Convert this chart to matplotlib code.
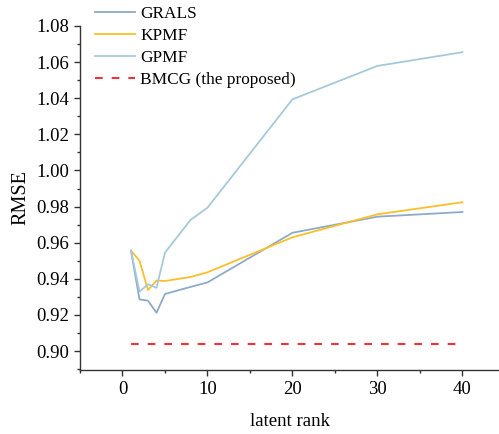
import matplotlib
matplotlib.use("Agg")
import matplotlib.pyplot as plt
from matplotlib.ticker import MultipleLocator

plt.rcParams["font.family"] = ["Liberation Serif", "DejaVu Serif"]

ranks = [1, 2, 3, 4, 5, 8, 10, 20, 30, 40]
grals = [0.9556, 0.9286, 0.9279, 0.9212, 0.9316, 0.9355, 0.9380, 0.9655, 0.9744, 0.9770]
kpmf = [0.9556, 0.9500, 0.9338, 0.9390, 0.9388, 0.9410, 0.9436, 0.9630, 0.9757, 0.9824]
gpmf = [0.9556, 0.9329, 0.9370, 0.9350, 0.9545, 0.9726, 0.9794, 1.0394, 1.0579, 1.0655]
bmcg_x = [1, 40]
bmcg = [0.904, 0.904]

fig = plt.figure(figsize=(4.99, 4.34), dpi=100)
ax = fig.add_axes([80 / 499, 64 / 434, 419 / 499, 344 / 434])

ax.plot(ranks, grals, color="#8eaac9", lw=1.3, label="GRALS")
ax.plot(ranks, kpmf, color="#fbbf2a", lw=1.3, label="KPMF")
ax.plot(ranks, gpmf, color="#a6c9da", lw=1.3, label="GPMF")
ax.plot(bmcg_x, bmcg, color="#f0323a", lw=1.5, dashes=(3.7, 4.3),
        label="BMCG (the proposed)")

ax.set_xlim(-5, 44.3)
ax.set_ylim(0.8895, 1.08)
ax.xaxis.set_major_locator(MultipleLocator(10))
ax.xaxis.set_minor_locator(MultipleLocator(5))
ax.yaxis.set_major_locator(MultipleLocator(0.02))
ax.yaxis.set_minor_locator(MultipleLocator(0.01))
ax.yaxis.set_major_formatter(lambda v, p: f"{v:.2f}")

for s in ["top", "right"]:
    ax.spines[s].set_visible(False)
for s in ["left", "bottom"]:
    ax.spines[s].set_linewidth(1.0)
    ax.spines[s].set_color("#333333")

ax.tick_params(which="major", direction="out", length=4.5, width=1.0,
               labelsize=13.5, colors="#333333", labelcolor="black")
ax.tick_params(which="minor", direction="out", length=2.5, width=1.0,
               colors="#333333")

ax.set_xlabel("latent rank", fontsize=13.5, labelpad=11)
ax.set_ylabel("RMSE", fontsize=14.5, labelpad=4)

leg = ax.legend(loc="upper left", bbox_to_anchor=(93 / 499, 0.99),
                bbox_transform=fig.transFigure, frameon=False, fontsize=12.4,
                handlelength=2.35, handletextpad=0.3, labelspacing=0.35,
                borderaxespad=0.0, borderpad=0.1)

fig.savefig("out.png", dpi=100)
